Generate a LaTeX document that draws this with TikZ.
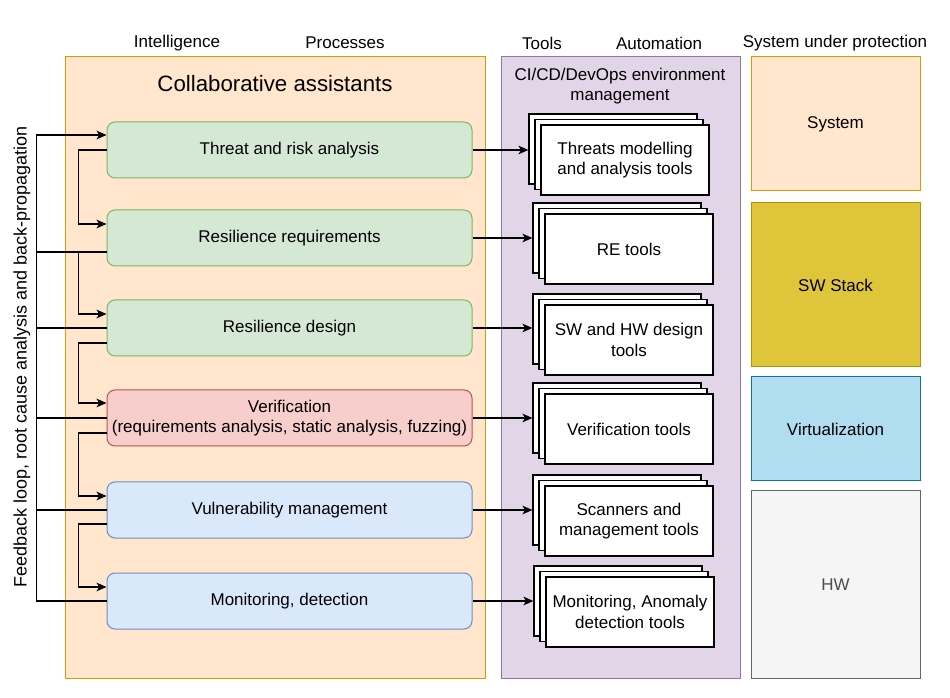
\documentclass[tikz,border=0pt]{standalone}
\usepackage{fontspec}
\setmainfont{Liberation Sans}
\usetikzlibrary{positioning,calc,arrows.meta}

\definecolor{orFill}{HTML}{FFE6CC}
\definecolor{orLine}{HTML}{D79B00}
\definecolor{puFill}{HTML}{E1D5E7}
\definecolor{puLine}{HTML}{9673A6}
\definecolor{grFill}{HTML}{D5E8D4}
\definecolor{grLine}{HTML}{82B366}
\definecolor{reFill}{HTML}{F8CECC}
\definecolor{reLine}{HTML}{B85450}
\definecolor{blFill}{HTML}{DAE8FC}
\definecolor{blLine}{HTML}{6C8EBF}
\definecolor{yeFill}{HTML}{DFC53A}
\definecolor{yeLine}{HTML}{B09500}
\definecolor{cyFill}{HTML}{B1DDF0}
\definecolor{cyLine}{HTML}{10739E}
\definecolor{hwFill}{HTML}{F5F5F5}
\definecolor{hwLine}{HTML}{666666}

\begin{document}
\begin{tikzpicture}[x=0.75pt,y=-0.75pt,
    every node/.style={font=\fontsize{12.75}{15.5}\selectfont, align=center},
    proc/.style={draw, line width=0.75pt, rounded corners=6pt,
        minimum width=273.75pt, minimum height=42pt},
    toolbox/.style={draw, fill=white, line width=0.9pt,
        minimum width=126pt, minimum height=52.5pt},
    sysbox/.style={draw, line width=0.75pt, minimum width=126.75pt},
    arr/.style={line width=0.9pt, -{Stealth[length=7.5pt,width=6.5pt,inset=2pt]}},
    ln/.style={line width=0.9pt}]
    \useasboundingbox (0,0) rectangle (950,698);

    % column headers
    \node (hInt) at (177,43) {Intelligence};
    \node (hPro) at (345,43) {Processes};
    \node (hToo) at (542,43) {Tools};
    \node (hAut) at (659,43) {Automation};
    \node (hSys) at (835,43) {System under protection};

    % big regions
    \draw[line width=0.75pt, draw=orLine, fill=orFill] (65,57) rectangle (485,678);
    \draw[line width=0.75pt, draw=puLine, fill=puFill] (501,57) rectangle (740,678);
    \node (assist) at (275,84) {\fontsize{16.7}{20}\selectfont Collaborative assistants};
    \node (cicd) at (620,86) {CI/CD/DevOps environment\\management};

    % processes
    \node[proc, draw=grLine, fill=grFill] (thr) at (289.5,150) {Threat and risk analysis};
    \node[proc, draw=grLine, fill=grFill] (req) at (289.5,238) {Resilience requirements};
    \node[proc, draw=grLine, fill=grFill] (des) at (289.5,328) {Resilience design};
    \node[proc, draw=reLine, fill=reFill] (ver) at (289.5,418)
        {Verification\\(requirements analysis, static analysis, fuzzing)};
    \node[proc, draw=blLine, fill=blFill] (vul) at (289.5,510) {Vulnerability management};
    \node[proc, draw=blLine, fill=blFill] (mon) at (289.5,601) {Monitoring, detection};

    % tool stacks
    \foreach \n/\x/\y/\t in {tthr/625/160/{Threats modelling\\and analysis tools},
                             tre/629/249/{RE tools},
                             tdes/629/340/{SW and HW design\\tools},
                             tver/629/429/{Verification tools},
                             tvul/629/521/{Scanners and\\management tools},
                             tmon/630/612/{Monitoring, Anomaly\\detection tools}} {
        \node[toolbox] (\n C) at (\x-12,\y-11) {};
        \node[toolbox] (\n B) at (\x-6,\y-5.5) {};
        \node[toolbox] (\n) at (\x,\y) {\t};
    }

    % process -> tools
    \draw[arr] (thr.east) -- (thr.east -| tthrC.west);
    \draw[arr] (req.east) -- (req.east -| treC.west);
    \draw[arr] (des.east) -- (des.east -| tdesC.west);
    \draw[arr] (ver.east) -- (ver.east -| tverC.west);
    \draw[arr] (vul.east) -- (vul.east -| tvulC.west);
    \draw[arr] (mon.east) -- (mon.east -| tmonC.west);

    % system under protection
    \node[sysbox, draw=orLine, fill=orFill, minimum height=100.5pt] (sys) at (835.5,124) {System};
    \node[sysbox, draw=yeLine, fill=yeFill, minimum height=123pt] (sws) at (835.5,285) {SW Stack};
    \node[sysbox, draw=cyLine, fill=cyFill, minimum height=78pt] (virt) at (835.5,429) {Virtualization};
    \node[sysbox, draw=hwLine, fill=hwFill, minimum height=140.25pt, text=black!70] (hw) at (835.5,584.5) {HW};

    % chain between processes
    \draw[arr] (thr.west) -- ++(-28,0) |- ($(req.west)+(0,-14)$);
    \draw[arr] ($(req.west)+(0,14)$) -- ++(-28,0) |- ($(des.west)+(0,-14)$);
    \draw[arr] ($(des.west)+(0,15)$) -- ++(-28,0) |- ($(ver.west)+(0,-15)$);
    \draw[arr] ($(ver.west)+(0,15)$) -- ++(-28,0) |- ($(vul.west)+(0,-14)$);
    \draw[arr] ($(vul.west)+(0,14)$) -- ++(-28,0) |- ($(mon.west)+(0,-14)$);

    % feedback loop
    \coordinate (fbTop) at ($(thr.west)+(0,-15)$);
    \draw[arr] (mon.west) -- ++(-70,0) |- (fbTop);
    \draw[ln] (vul.west) -- ++(-70,0);
    \draw[ln] (ver.west) -- ++(-70,0);
    \draw[ln] (des.west) -- ++(-70,0);
    \draw[ln] ($(req.west)+(0,14)$) -- ++(-70,0);
    \node[rotate=90, font=\fontsize{13.5}{16}\selectfont] (fbl) at (22,357) {Feedback loop, root cause analysis and back-propagation};
\end{tikzpicture}
\end{document}
